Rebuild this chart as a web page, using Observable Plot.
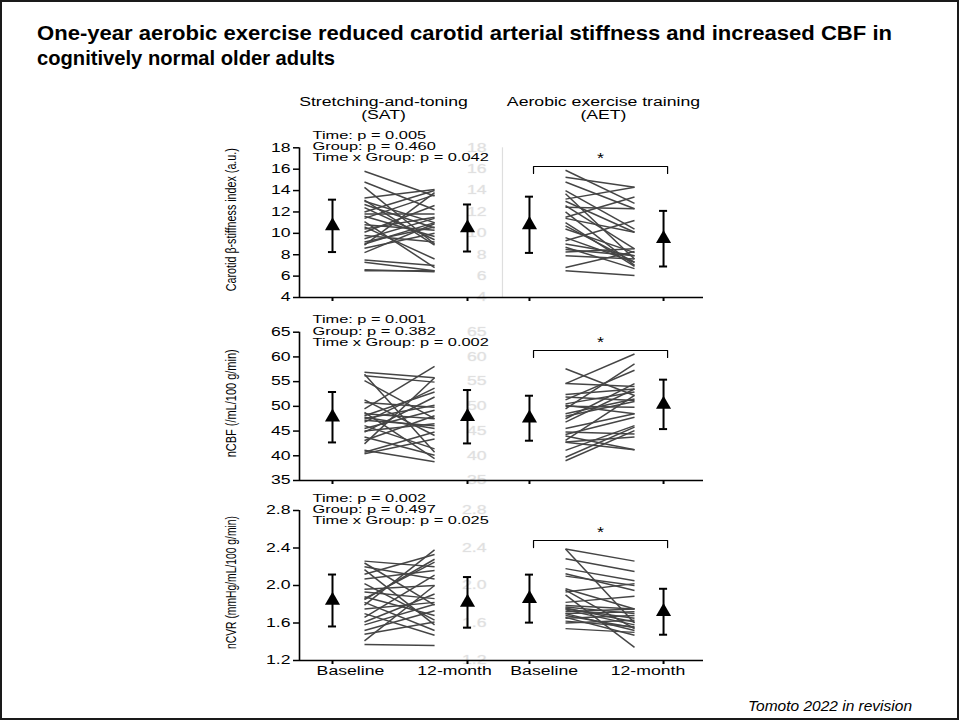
<!DOCTYPE html>
<html><head><meta charset="utf-8">
<script src="https://cdn.jsdelivr.net/npm/d3@7"></script>
<script src="https://cdn.jsdelivr.net/npm/@observablehq/plot@0.6"></script>
<style>
html,body{margin:0;padding:0;background:#fff;}
#slide{position:relative;width:960px;height:721px;overflow:hidden;font-family:"Liberation Sans",Arial,sans-serif;color:#000;}
#frame{position:absolute;left:0;top:0;width:955px;height:716px;border:2px solid #1a1a1a;}
#title{position:absolute;left:0;top:0;}
#title text{font-family:"Liberation Sans",Arial,sans-serif;font-weight:bold;font-size:20.5px;fill:#000;}
#foot{position:absolute;right:48px;top:697px;font-style:italic;font-size:15.5px;line-height:18px;}
#slide svg{position:absolute;left:0;}
</style></head>
<body>
<div id="slide">
  <div id="frame"></div>
  <svg id="title" width="960" height="80">
    <text x="37" y="40" textLength="855" lengthAdjust="spacingAndGlyphs">One-year aerobic exercise reduced carotid arterial stiffness and increased CBF in</text>
    <text x="37" y="65" textLength="298" lengthAdjust="spacingAndGlyphs">cognitively normal older adults</text>
  </svg>
  <div id="foot">Tomoto 2022 in revision</div>
</div>
<script>
// ---------------- data ----------------
const groups = ["SAT", "AET"];
const times = ["Baseline", "12-month"];
const headerLines = {SAT: ["Stretching-and-toning", "(SAT)"], AET: ["Aerobic exercise training", "(AET)"]};
const measures = ["Carotid β-stiffness index (a.u.)", "nCBF (/mL/100 g/min)", "nCVR (mmHg/mL/100 g/min)"];
const yDomains = [[4, 18], [35, 65], [1.2, 2.8]];
const yTicks = [[4, 6, 8, 10, 12, 14, 16, 18], [35, 40, 45, 50, 55, 60, 65], [1.2, 1.6, 2.0, 2.4, 2.8]];
const pStiffness = ["Time: p = 0.005", "Group: p = 0.460", "Time x Group: p = 0.042"];
const pCBF = ["Time: p = 0.001", "Group: p = 0.382", "Time x Group: p = 0.002"];
const pCVR = ["Time: p = 0.002", "Group: p = 0.497", "Time x Group: p = 0.025"];

// mean, SD  [baseline, 12-month]
const meanStiffSAT = [[10.7, 2.45], [10.5, 2.2]];
const meanStiffAET = [[10.8, 2.63], [9.5, 2.6]];
const meanCBFSAT = [[47.8, 5.1], [47.9, 5.4]];
const meanCBFAET = [[47.6, 4.55], [50.4, 5.0]];
const meanCVRSAT = [[1.84, 0.277], [1.82, 0.27]];
const meanCVRAET = [[1.86, 0.256], [1.72, 0.245]];

// individual [baseline, 12-month]
const stiffSAT = [[15.8,13.5],[14.8,12.2],[14.3,9.0],[13.3,14.1],[13.1,8.9],[13.0,11.0],[12.7,10.5],[12.4,9.4],[12.0,14.0],[11.8,11.8],[11.6,9.7],[11.4,13.6],[11.1,6.8],[10.8,10.3],[10.4,11.5],[10.1,12.6],[9.8,9.2],[9.5,11.4],[9.2,10.6],[8.9,13.8],[8.6,10.0],[8.2,10.9],[7.5,7.0],[7.3,6.5],[6.6,6.4],[6.5,6.5],[9.0,11.0],[10.6,7.6]];
const stiffAET = [[15.9,12.8],[15.25,14.3],[14.8,12.3],[14.0,10.4],[13.7,7.6],[13.2,14.3],[12.6,8.55],[12.45,12.3],[11.5,13.4],[11.4,10.1],[10.7,7.3],[10.4,8.2],[9.3,11.2],[9.0,7.9],[8.7,6.7],[8.25,8.55],[7.9,7.6],[6.8,8.3],[6.5,6.06],[12.0,7.0],[13.0,10.1],[9.6,7.3],[11.0,6.9],[8.5,7.9]];
const cbfSAT = [[56.9,55.8],[56.5,40.7],[56.2,54.9],[55.2,47.5],[51.3,44.1],[50.8,49.8],[49.5,58.1],[48.8,39.4],[48.1,52.9],[47.8,45.5],[47.5,50.2],[47.2,46.1],[46.8,53.7],[46.1,41.4],[45.5,49.2],[44.8,51.9],[43.8,40.1],[43.1,48.1],[42.4,55.8],[41.1,38.8],[40.7,44.8],[40.4,43.4],[48.5,47.5],[45.0,46.5]];
const cbfAET = [[57.6,52.2],[54.6,60.6],[54.6,54.0],[52.4,53.5],[51.9,51.2],[51.3,57.3],[50.5,52.9],[50.0,49.8],[49.5,58.6],[48.5,51.5],[47.5,54.6],[46.8,53.5],[45.5,48.5],[44.8,44.4],[44.3,47.8],[43.1,52.2],[42.75,41.2],[41.1,46.1],[39.7,45.8],[39.0,45.1],[42.8,43.8],[44.0,41.2],[48.0,51.0],[50.2,48.5]];
const cvrSAT = [[2.26,2.20],[2.24,1.79],[2.20,2.07],[2.17,1.58],[2.12,2.33],[2.07,2.16],[1.96,2.0],[1.93,1.86],[1.88,1.68],[1.86,2.25],[1.82,1.52],[1.79,2.38],[1.75,1.82],[1.70,1.47],[1.66,2.11],[1.61,1.91],[1.52,1.73],[1.48,1.61],[1.41,2.0],[1.37,1.36],[2.02,1.63],[1.58,1.8],[1.85,2.28]];
const cvrAET = [[2.39,2.26],[2.39,1.60],[2.285,2.15],[2.18,2.05],[2.125,1.947],[2.10,2.0],[1.965,1.75],[1.95,1.54],[1.93,2.02],[1.90,1.34],[1.787,1.75],[1.77,1.70],[1.75,1.65],[1.74,1.58],[1.72,1.75],[1.70,1.72],[1.68,1.55],[1.66,1.47],[1.65,1.68],[1.62,1.56],[1.60,1.63],[1.54,1.50],[1.76,1.61],[1.70,1.52],[1.82,1.886]];

const bracketLevel = [16.25, 61.3, 2.48];
const bracketEnd = [15.6, 59.9, 2.405];

// ---------------- layout (x in slot units, 1 unit = baseline→12-month) ----------------
const xDomain = [-0.2444, 2.748];
const timeX = {SAT: [0, 1], AET: [1.459, 2.452]};
const lineX = {SAT: [0.237, 0.756], AET: [1.726, 2.237]};
const labelX = {SAT: [0.133, 0.904], AET: [1.568, 2.337]};
const headerX = {SAT: 0.378, AET: 2.007};
const ghostX = 1.259;
const rowBox = [
  {top: 88, h: 217, yTop: 147.3, yBot: 297},
  {top: 305, h: 180, yTop: 331.7, yBot: 480},
  {top: 485, h: 200, yTop: 510, yBot: 660}
];
const yLabelLen = {"Carotid β-stiffness index (a.u.)": 143, "nCBF (/mL/100 g/min)": 108, "nCVR (mmHg/mL/100 g/min)": 133};
const pSet = new Set([...pStiffness, ...pCBF, ...pCVR]);

const pairsBy = [{SAT: stiffSAT, AET: stiffAET}, {SAT: cbfSAT, AET: cbfAET}, {SAT: cvrSAT, AET: cvrAET}];
const meansBy = [{SAT: meanStiffSAT, AET: meanStiffAET}, {SAT: meanCBFSAT, AET: meanCBFAET}, {SAT: meanCVRSAT, AET: meanCVRAET}];
const pBy = [pStiffness, pCBF, pCVR];

function makeRow(r) {
  const box = rowBox[r];
  const fmt = r === 2 ? d3.format(".1f") : d3.format("d");
  const spag = groups.flatMap(g => pairsBy[r][g].map(([b, m]) => ({g, b, m})));
  const means = groups.flatMap(g => times.map((t, i) => ({g, t, x: timeX[g][i], mean: meansBy[r][g][i][0], sd: meansBy[r][g][i][1]})));
  const tickPos = groups.flatMap(g => timeX[g]);
  const cap = 0.03;
  const bx0 = timeX.AET[0] + 0.03, bx1 = timeX.AET[1] + 0.03;
  const bracket = [
    {x: bx0, y: bracketEnd[r]}, {x: bx0, y: bracketLevel[r]},
    {x: bx1, y: bracketLevel[r]}, {x: bx1, y: bracketEnd[r]}
  ];
  const marks = [];
  if (r === 0) marks.push(Plot.ruleX([ghostX], {stroke: "#dedede", strokeWidth: 1.2}));
  marks.push(
    Plot.text(yTicks[r], {x: ghostX, y: d => d, text: fmt, textAnchor: "end", dx: -16, fill: "#e0e0e0", stroke: "#f3f3f3", strokeWidth: 0.6, fontSize: 12}),
    Plot.link(spag, {x1: d => lineX[d.g][0], x2: d => lineX[d.g][1], y1: "b", y2: "m", stroke: "#454545", strokeWidth: 1.5}),
    Plot.ruleX(means, {x: "x", y1: d => d.mean - d.sd, y2: d => d.mean + d.sd, stroke: "#000", strokeWidth: 2}),
    Plot.ruleY(means, {y: d => d.mean - d.sd, x1: d => d.x - cap, x2: d => d.x + cap, stroke: "#000", strokeWidth: 2}),
    Plot.ruleY(means, {y: d => d.mean + d.sd, x1: d => d.x - cap, x2: d => d.x + cap, stroke: "#000", strokeWidth: 2}),
    Plot.dot(means, {x: "x", y: "mean", symbol: "triangle", r: 5.6, fill: "#000", stroke: null}),
    Plot.line(bracket, {x: "x", y: "y", stroke: "#000", strokeWidth: 1.2}),
    Plot.text(["*"], {x: (bx0 + bx1) / 2, y: bracketLevel[r], dy: -8, fontSize: 15}),
    Plot.ruleX([xDomain[0]], {stroke: "#000", strokeWidth: 1.6}),
    Plot.ruleY([yDomains[r][0]], {stroke: "#000", strokeWidth: 1.6}),
    Plot.axisY(yTicks[r], {tickSize: 6, tickPadding: 3, tickFormat: fmt, fontSize: 12, strokeWidth: 1.5, label: null}),
    Plot.axisX(tickPos, {tickSize: 4, tickFormat: () => "", strokeWidth: 2, label: null}),
    ...pBy[r].map((t, i) => Plot.text([t], {frameAnchor: "top-left", lineAnchor: "middle", textAnchor: "start", dx: 13, dy: -12.7 + 11.3 * i, fontSize: 11.7})),
    Plot.text([measures[r]], {frameAnchor: "left", textAnchor: "middle", lineAnchor: "middle", rotate: -90, dx: -68, dy: -3, fontSize: 14})
  );
  if (r === 0) {
    groups.forEach(g => {
      headerLines[g].forEach((t, i) => marks.push(Plot.text([t], {x: headerX[g], frameAnchor: "top", lineAnchor: "middle", dy: -45.3 + 13 * i, fontSize: 12})));
    });
  }
  if (r === 2) {
    const labs = groups.flatMap(g => times.map((t, i) => ({t, x: labelX[g][i]})));
    marks.push(Plot.text(labs, {x: "x", text: "t", frameAnchor: "bottom", lineAnchor: "middle", dy: 11, fontSize: 12}));
  }
  const svg = Plot.plot({
    width: 960, height: box.h,
    marginLeft: 299, marginRight: 257,
    marginTop: box.yTop - box.top, marginBottom: box.top + box.h - box.yBot,
    x: {domain: xDomain},
    y: {domain: yDomains[r]},
    style: {fontFamily: '"Liberation Sans", Arial, sans-serif', fontSize: "12px", color: "#000", background: "transparent", overflow: "visible"},
    marks
  });
  svg.style.top = box.top + "px";
  return svg;
}

const slide = document.getElementById("slide");
for (let r = 0; r < 3; r++) {
  const svg = makeRow(r);
  slide.appendChild(svg);
  svg.querySelectorAll("text").forEach(t => {
    const txt = t.textContent;
    if (!txt || !txt.trim()) return;
    const L = t.getComputedTextLength();
    if (!(L > 0)) return;
    let target;
    if (txt in yLabelLen) target = yLabelLen[txt];
    else if (pSet.has(txt)) target = L * 1.4;
    else if (txt === "*") target = L * 1.2;
    else target = L * 1.47;
    t.setAttribute("textLength", target.toFixed(1));
    t.setAttribute("lengthAdjust", "spacingAndGlyphs");
  });
}
</script>
</body></html>
